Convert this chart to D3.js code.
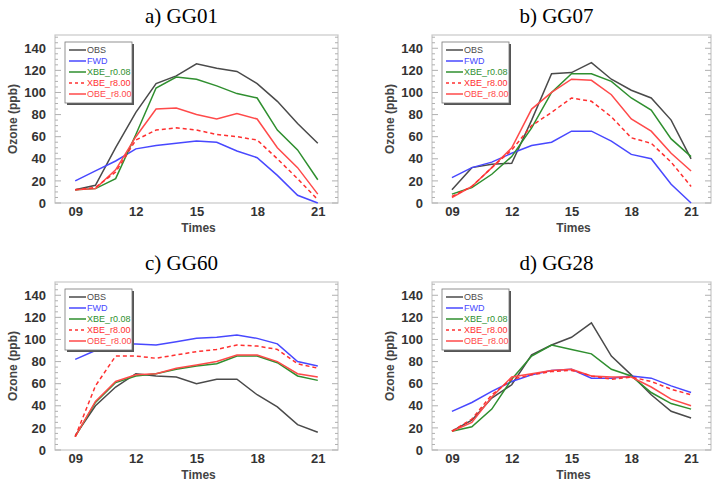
<!DOCTYPE html>
<html>
<head>
<meta charset="utf-8">
<script src="https://cdn.jsdelivr.net/npm/d3@7"></script>
<style>
  html, body { margin: 0; padding: 0; background: #fff; }
  svg { display: block; }
</style>
</head>
<body>
<svg id="chart" width="713" height="484"></svg>
<script>
// Hourly ozone at four sites: observations vs. forward run and two assimilation runs
const hours = [9, 10, 11, 12, 13, 14, 15, 16, 17, 18, 19, 20, 21];
const xTickValues = [9, 12, 15, 18, 21];
const xTickLabels = ["09", "12", "15", "18", "21"];
const yTickValues = [0, 20, 40, 60, 80, 100, 120, 140];

const seriesNames = ["OBS", "FWD", "XBE_r0.08", "XBE_r8.00", "OBE_r8.00"];
const seriesColors = ["#4a4a4a", "#4848ff", "#2f8f2f", "#ff3030", "#ff4a4a"];
const seriesDashed = [false, false, false, true, false];

const panelTitles = ["a) GG01", "b) GG07", "c) GG60", "d) GG28"];

// GG01
const gg01_obs = [12, 16, 50, 82, 108, 115, 126, 122, 119, 108, 92, 72, 54];
const gg01_fwd = [20, 29, 38, 49, 52, 54, 56, 55, 47, 41, 25, 7, 0];
const gg01_xbe008 = [12, 13, 22, 62, 104, 114, 112, 106, 99, 95, 66, 48, 21];
const gg01_xbe800 = [12, 14, 28, 57, 66, 68, 66, 62, 60, 57, 40, 22, 3];
const gg01_obe800 = [12, 13, 30, 60, 85, 86, 80, 76, 81, 76, 50, 32, 8];

// GG07
const gg07_obs = [12, 32, 35, 36, 75, 117, 118, 127, 112, 102, 95, 75, 40];
const gg07_fwd = [23, 32, 37, 45, 52, 55, 65, 65, 56, 44, 40, 17, 0];
const gg07_xbe008 = [8, 14, 26, 42, 68, 100, 117, 117, 110, 95, 84, 58, 42];
const gg07_xbe800 = [6, 15, 32, 48, 70, 82, 95, 92, 78, 59, 54, 37, 15];
const gg07_obe800 = [5, 15, 32, 50, 85, 100, 112, 111, 98, 76, 65, 45, 29];

// GG60
const gg60_obs = [13, 40, 57, 69, 67, 66, 60, 64, 64, 50, 39, 23, 16];
const gg60_fwd = [82, 90, 96, 96, 95, 98, 101, 102, 104, 101, 96, 80, 76];
const gg60_xbe008 = [12, 43, 61, 67, 69, 73, 76, 78, 85, 85, 79, 67, 63];
const gg60_xbe800 = [12, 58, 85, 85, 83, 86, 89, 91, 95, 94, 91, 78, 74];
const gg60_obe800 = [12, 44, 62, 68, 69, 74, 77, 80, 86, 86, 80, 69, 66];

// GG28
const gg28_obs = [17, 27, 47, 59, 86, 95, 102, 115, 85, 68, 50, 35, 29];
const gg28_fwd = [35, 43, 53, 62, 68, 72, 73, 65, 65, 67, 65, 58, 52];
const gg28_xbe008 = [17, 21, 37, 64, 85, 95, 91, 87, 73, 67, 52, 42, 37];
const gg28_xbe800 = [17, 28, 50, 64, 68, 71, 72, 67, 64, 66, 62, 55, 50];
const gg28_obe800 = [17, 25, 48, 66, 69, 72, 73, 67, 66, 66, 57, 46, 40];

const panelData = [
  [gg01_obs, gg01_fwd, gg01_xbe008, gg01_xbe800, gg01_obe800],
  [gg07_obs, gg07_fwd, gg07_xbe008, gg07_xbe800, gg07_obe800],
  [gg60_obs, gg60_fwd, gg60_xbe008, gg60_xbe800, gg60_obe800],
  [gg28_obs, gg28_fwd, gg28_xbe008, gg28_xbe800, gg28_obe800]
];

// Plot frames (left, top, right, bottom) for each panel
const frames = [
  { l: 55,  t: 35,  r: 338, b: 203 },
  { l: 432, t: 35,  r: 711, b: 203 },
  { l: 55,  t: 282, r: 338, b: 450 },
  { l: 432, t: 282, r: 711, b: 450 }
];

const svg = d3.select("#chart");
const sans = "'Liberation Sans', Arial, Helvetica, sans-serif";

panelTitles.forEach((title, pi) => {
  const f = frames[pi];
  const g = svg.append("g");

  const x = d3.scaleLinear().domain([8, 22]).range([f.l, f.r]);
  const y = d3.scaleLinear().domain([0, 152]).range([f.b, f.t]);

  // Title
  g.append("text")
    .attr("x", (f.l + f.r) / 2 - 15)
    .attr("y", f.t - 12)
    .attr("text-anchor", "middle")
    .style("font-family", "'Liberation Serif', 'Times New Roman', serif")
    .style("font-size", "21px")
    .text(title);

  // Frame
  g.append("rect")
    .attr("x", f.l).attr("y", f.t)
    .attr("width", f.r - f.l).attr("height", f.b - f.t)
    .attr("fill", "none")
    .attr("stroke", "#c8c8c8")
    .attr("stroke-width", 1.2);

  // Left axis: labels and inward ticks (major every 20, minor every 5)
  const yAxisL = d3.axisLeft(y).tickValues(yTickValues).tickSize(0).tickPadding(9);
  const ga = g.append("g").attr("transform", `translate(${f.l},0)`).call(yAxisL);
  ga.select(".domain").remove();
  ga.selectAll("text")
    .style("font-family", sans)
    .style("font-size", "13px")
    .style("font-weight", "bold")
    .attr("fill", "#333");

  const minor = d3.range(0, 151, 5);
  [f.l, f.r].forEach((ex, side) => {
    const dir = side === 0 ? 1 : -1;
    g.append("g").selectAll("line")
      .data(minor)
      .join("line")
      .attr("x1", ex)
      .attr("x2", d => ex + dir * (d % 20 === 0 ? 6 : 3))
      .attr("y1", d => y(d))
      .attr("y2", d => y(d))
      .attr("stroke", "#b0b0b0")
      .attr("stroke-width", 1);
  });

  // Bottom axis
  const xAxis = d3.axisBottom(x)
    .tickValues(xTickValues)
    .tickFormat((d, i) => xTickLabels[i])
    .tickSize(0).tickPadding(4);
  const gx = g.append("g").attr("transform", `translate(0,${f.b})`).call(xAxis);
  gx.select(".domain").remove();
  gx.selectAll("text")
    .style("font-family", sans)
    .style("font-size", "13px")
    .style("font-weight", "bold")
    .attr("fill", "#333");

  // Axis titles
  g.append("text")
    .attr("x", (f.l + f.r) / 2 + 2)
    .attr("y", f.b + 29)
    .attr("text-anchor", "middle")
    .style("font-family", sans)
    .style("font-size", "12px")
    .style("font-weight", "bold")
    .attr("fill", "#444")
    .text("Times");

  g.append("text")
    .attr("transform", `translate(${f.l - 38},${(f.t + f.b) / 2}) rotate(-90)`)
    .attr("text-anchor", "middle")
    .style("font-family", sans)
    .style("font-size", "12px")
    .style("font-weight", "bold")
    .attr("fill", "#444")
    .text("Ozone (ppb)");

  // Series lines
  const line = d3.line()
    .x((d, i) => x(hours[i]))
    .y(d => y(d));

  const order = [0, 1, 2, 4, 3];
  order.forEach(si => {
    g.append("path")
      .datum(panelData[pi][si])
      .attr("d", line)
      .attr("fill", "none")
      .attr("stroke", seriesColors[si])
      .attr("stroke-width", 1.5)
      .attr("stroke-dasharray", seriesDashed[si] ? "4,3" : null);
  });

  // Legend box with drop shadow
  const lx = f.l + 10, ly = f.t + 7, lw = 67, lh = 61;
  const lg = g.append("g");
  lg.append("rect")
    .attr("x", lx + 2).attr("y", ly + 2)
    .attr("width", lw).attr("height", lh)
    .attr("fill", "#555");
  lg.append("rect")
    .attr("x", lx).attr("y", ly)
    .attr("width", lw).attr("height", lh)
    .attr("fill", "#fff")
    .attr("stroke", "#777")
    .attr("stroke-width", 0.8);

  seriesNames.forEach((name, si) => {
    const ry = ly + 8 + si * 11;
    lg.append("line")
      .attr("x1", lx + 4).attr("x2", lx + 21)
      .attr("y1", ry).attr("y2", ry)
      .attr("stroke", seriesColors[si])
      .attr("stroke-width", 1.5)
      .attr("stroke-dasharray", seriesDashed[si] ? "3,3" : null);
    lg.append("text")
      .attr("x", lx + 22).attr("y", ry + 3)
      .style("font-family", sans)
      .style("font-size", "9px")
      .attr("fill", seriesColors[si])
      .text(name);
  });
});
</script>
</body>
</html>
